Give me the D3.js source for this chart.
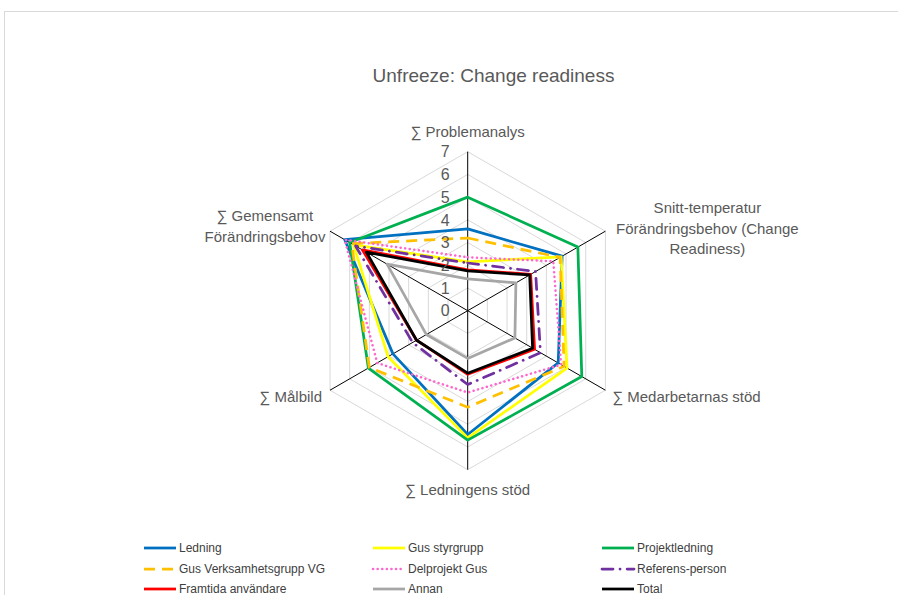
<!DOCTYPE html>
<html>
<head>
<meta charset="utf-8">
<script src="https://cdn.jsdelivr.net/npm/d3@7/dist/d3.min.js"></script>
<style>
  html, body { margin: 0; padding: 0; background: #fff; }
  svg { display: block; }
  text { font-family: "Liberation Sans Narrow", "Liberation Sans", Arial, sans-serif; }
</style>
</head>
<body>
<svg id="chart" width="898" height="595"></svg>
<script>
// Radar axes (clockwise from the top)
const axes = [
  ["∑ Problemanalys"],
  ["Snitt-temperatur", "Förändringsbehov (Change", "Readiness)"],
  ["∑ Medarbetarnas stöd"],
  ["∑ Ledningens stöd"],
  ["∑ Målbild"],
  ["∑ Gemensamt", "Förändringsbehov"]
];
const ticks = [0, 1, 2, 3, 4, 5, 6, 7];

// Series names and scores per axis
const seriesNames = [
  "Ledning", "Gus styrgrupp", "Projektledning",
  "Gus Verksamhetsgrupp VG", "Delprojekt Gus", "Referens-person",
  "Framtida användare", "Annan", "Total"
];
const ledning        = [3.6, 4.8, 4.6, 5.45, 3.8, 6.25];
const gusStyrgrupp   = [2.15, 4.75, 5.05, 5.6, 4.05, 5.8];
const projektledning = [5.0, 5.6, 5.8, 5.7, 5.05, 6.0];
const gusVG          = [3.2, 4.7, 4.9, 4.25, 5.0, 5.9];
const delprojektGus  = [2.35, 4.35, 4.75, 3.6, 4.6, 6.25];
const referensPerson = [2.1, 3.45, 3.7, 3.25, 2.8, 5.7];
const framtida       = [1.8, 3.2, 3.4, 2.8, 2.6, 5.35];
const annan          = [1.4, 2.45, 2.4, 2.1, 2.1, 4.1];
const total          = [1.75, 3.15, 3.3, 2.75, 2.6, 5.15];
const seriesValues = [ledning, gusStyrgrupp, projektledning, gusVG, delprojektGus,
                      referensPerson, framtida, annan, total];

// Visual styling per series
const styles = [
  { color: "#0070C0", dash: null },
  { color: "#FFFF00", dash: null },
  { color: "#00B050", dash: null },
  { color: "#FFC000", dash: "11,7" },
  { color: "#FF66CC", dash: "0.1,4.5", cap: "round" },
  { color: "#7030A0", dash: "11,7,0.1,7", cap: "round" },
  { color: "#FF0000", dash: null },
  { color: "#A6A6A6", dash: null },
  { color: "#000000", dash: null }
];

const svg = d3.select("#chart");
const cx = 467.7, cy = 310.7, R = 159;

// chart area frame
svg.append("rect")
  .attr("x", 4.5).attr("y", 11.5)
  .attr("width", 1100).attr("height", 700)
  .attr("fill", "#fff").attr("stroke", "#d9d9d9").attr("stroke-width", 1);

svg.append("text")
  .attr("x", 493.5).attr("y", 82)
  .attr("text-anchor", "middle")
  .attr("font-size", 19)
  .attr("fill", "#595959")
  .text("Unfreeze: Change readiness");

const r = d3.scaleLinear().domain([0, 7]).range([0, R]);
const angle = d3.scaleLinear().domain([0, axes.length]).range([0, 2 * Math.PI]);

const g = svg.append("g").attr("transform", `translate(${cx},${cy})`);

// hexagonal gridlines
const ring = d3.lineRadial().curve(d3.curveLinearClosed);
ticks.filter(t => t > 0).forEach(t => {
  g.append("path")
    .attr("d", ring(axes.map((a, i) => [angle(i), r(t)])))
    .attr("fill", "none").attr("stroke", "#d9d9d9").attr("stroke-width", 1);
});

// spokes
axes.forEach((a, i) => {
  const th = angle(i);
  g.append("line")
    .attr("x1", 0).attr("y1", 0)
    .attr("x2", r(7) * Math.sin(th)).attr("y2", -r(7) * Math.cos(th))
    .attr("stroke", "#000").attr("stroke-width", 1);
});

// series polygons
const line = d3.lineRadial()
  .angle((d, i) => angle(i))
  .radius(d => r(d))
  .curve(d3.curveLinearClosed);

seriesValues.forEach((vals, k) => {
  const s = styles[k];
  g.append("path")
    .attr("d", line(vals))
    .attr("fill", "none")
    .attr("stroke", s.color)
    .attr("stroke-width", k === 4 ? 2.5 : 2.75)
    .attr("stroke-linejoin", "round")
    .attr("stroke-linecap", s.cap || "butt")
    .attr("stroke-dasharray", s.dash);
});

// tick labels along the top spoke
ticks.forEach(t => {
  g.append("text")
    .attr("x", -18).attr("y", -r(t))
    .attr("dy", "0.36em")
    .attr("text-anchor", "end")
    .attr("font-size", 16)
    .attr("fill", "#595959")
    .text(t);
});

// axis labels
const labelLayout = [
  { dx: 0, dy: -20, anchor: "middle" },
  { dx: 102, dy: -3, anchor: "middle" },
  { dx: 7, dy: 6, anchor: "start" },
  { dx: 0, dy: 20, anchor: "middle" },
  { dx: -8, dy: 6, anchor: "end" },
  { dx: -65, dy: -5, anchor: "middle" }
];
const lineH = 20.5;
axes.forEach((lines, i) => {
  const th = angle(i);
  const ex = r(7) * Math.sin(th), ey = -r(7) * Math.cos(th);
  const L = labelLayout[i];
  const t = g.append("text")
    .attr("text-anchor", L.anchor)
    .attr("font-size", 15)
    .attr("fill", "#595959");
  const y0 = ey + L.dy - (lines.length - 1) * lineH / 2;
  lines.forEach((s, j) => {
    t.append("tspan")
      .attr("x", ex + L.dx)
      .attr("y", y0 + j * lineH)
      .attr("dy", "0.36em")
      .text(s);
  });
});

// legend, three columns by rows
const legX = [144, 373, 602];
const legY = [548, 569, 589];
seriesNames.forEach((name, k) => {
  const col = k % 3, row = Math.floor(k / 3);
  const s = styles[k];
  const lg = svg.append("g").attr("transform", `translate(${legX[col]},${legY[row]})`);
  lg.append("line")
    .attr("x1", 0).attr("x2", 32).attr("y1", 0).attr("y2", 0)
    .attr("stroke", s.color)
    .attr("stroke-width", k === 4 ? 2.5 : 2.75)
    .attr("stroke-linecap", s.cap || "butt")
    .attr("stroke-dasharray", s.dash);
  lg.append("text")
    .attr("x", 35).attr("y", 0).attr("dy", "0.36em")
    .attr("font-size", 12)
    .attr("fill", "#404040")
    .text(name);
});
</script>
</body>
</html>
